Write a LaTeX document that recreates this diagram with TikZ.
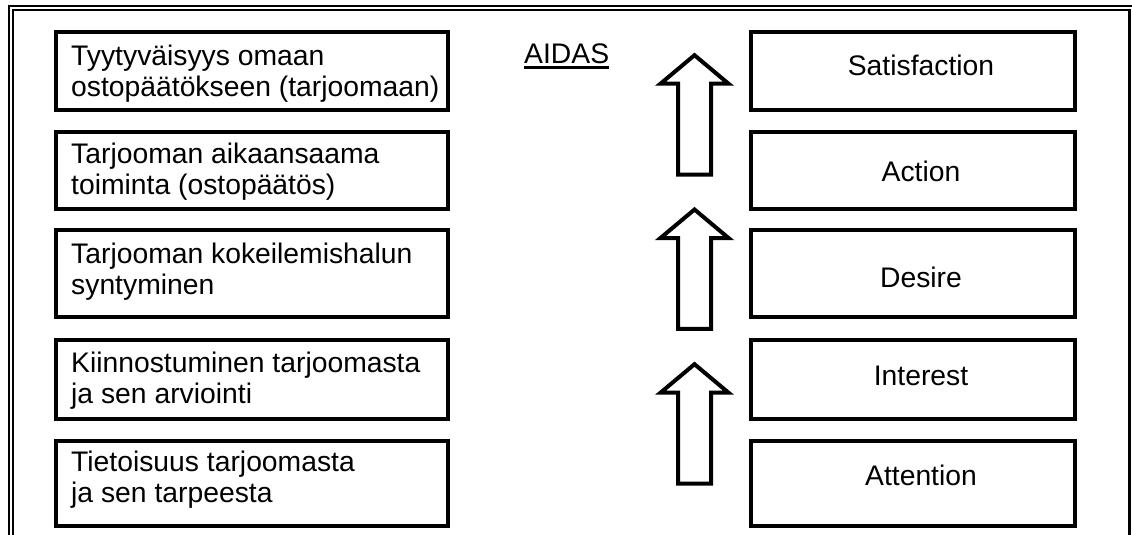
\documentclass[tikz,border=0pt]{standalone}
\usepackage{fontspec}
\setmainfont{Liberation Sans}
\begin{document}
\begin{tikzpicture}[x=1pt,y=-1pt,
		box/.style={draw, rectangle, line width=4pt, inner sep=0pt, outer sep=0pt, anchor=north west},
		txt/.style={inner sep=0pt, align=left, anchor=north west, font=\fontsize{28.3}{31}\selectfont, execute at begin node=\strut},
		lab/.style={inner sep=0pt, anchor=base, font=\fontsize{28.3}{31}\selectfont}]
		\useasboundingbox (0,0) rectangle (1132,535);
		\pgfmathsetmacro{\xL}{56};
		\pgfmathsetmacro{\xR}{750.5};
		\pgfmathsetmacro{\xA}{694.5};
		\draw[line width=1.5pt] (9,535) -- (9,6) -- (1132,6);
		\draw[line width=1.5pt] (13,535) -- (13,10) -- (1129,10);
		\draw[line width=3pt] (1129,9.25) -- (1129,535);
		\foreach \n/\ya/\yb in {1/32/109.5, 2/131.5/209, 3/229.5/316.5, 4/340/419, 5/441/526}
		{
			\node[box, minimum width=392pt, minimum height={(\yb-\ya)*1pt}] (L\n) at (\xL,\ya) {};
			\node[box, minimum width=324pt, minimum height={(\yb-\ya)*1pt}] (R\n) at (\xR,\ya) {};
		}
		\node[txt] (t1) at ([xshift=15pt,yshift=-13pt]L1.north west) {Tyytyväisyys omaan\\ostopäätökseen (tarjoomaan)};
		\node[txt] (t2) at ([xshift=15pt,yshift=-11pt]L2.north west) {Tarjooman aikaansaama\\toiminta (ostopäätös)};
		\node[txt] (t3) at ([xshift=15pt,yshift=-13pt]L3.north west) {Tarjooman kokeilemishalun\\syntyminen};
		\node[txt] (t4) at ([xshift=15pt,yshift=-12pt]L4.north west) {Kiinnostuminen tarjoomasta\\ja sen arviointi};
		\node[txt] (t5) at ([xshift=15pt,yshift=-10pt]L5.north west) {Tietoisuus tarjoomasta\\ja sen tarpeesta};
		\foreach \n/\word/\yb in {1/Satisfaction/75, 2/Action/181, 3/Desire/287, 4/Interest/385, 5/Attention/485}
			\node[lab] (w\n) at (921,\yb) {\word};
		\node[lab, anchor=base west] (aidas) at (524,63.3) {AIDAS};
		\draw[line width=2.5pt] ([yshift=-4pt]aidas.base west) -- ([yshift=-4pt]aidas.base east);
		\foreach \t in {55.2,209.5,364.2}
			\draw[line width=4pt, line join=miter] (\xA,\t) -- (\xA+34,\t+28.5) -- (\xA+16.5,\t+28.5) -- (\xA+16.5,\t+119.3)
				-- (\xA-16.5,\t+119.3) -- (\xA-16.5,\t+28.5) -- (\xA-34,\t+28.5) -- cycle;
	\end{tikzpicture}
\end{document}
